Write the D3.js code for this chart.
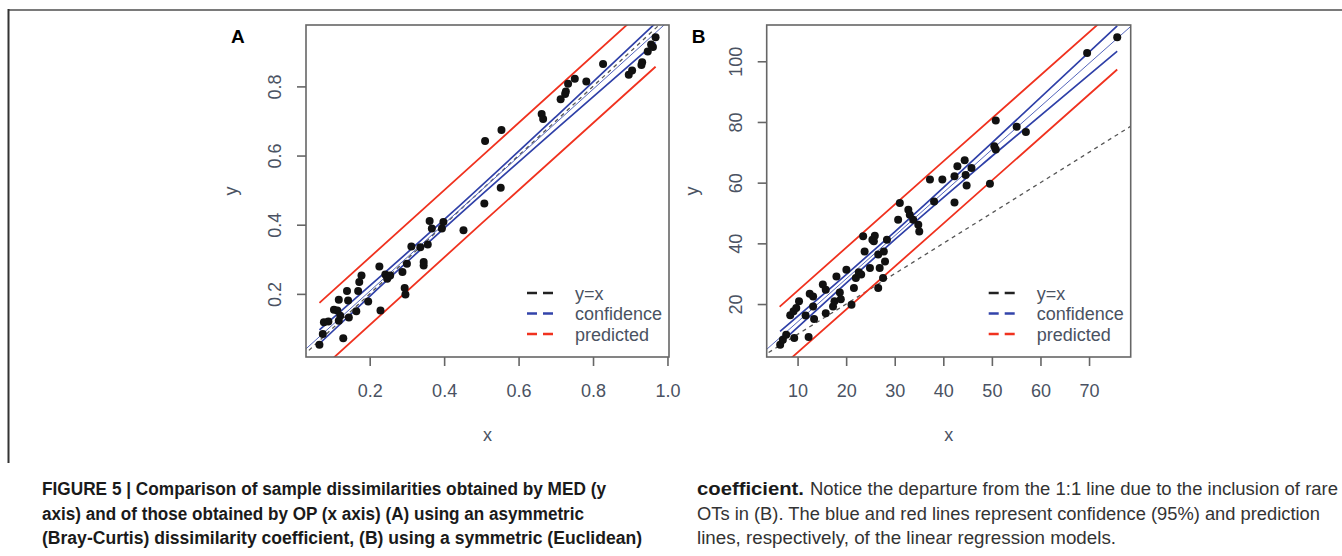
<!DOCTYPE html>
<html>
<head>
<meta charset="utf-8">
<script src="https://cdn.jsdelivr.net/npm/d3@7"></script>
<style>
  body { margin: 0; background: #fff; }
  svg { display: block; }
</style>
</head>
<body>
<script>

// panel A : asymmetric (Bray-Curtis)
let xA = [0.065, 0.074, 0.077, 0.089, 0.104, 0.113, 0.117, 0.121, 0.117, 0.129,
  0.139, 0.142, 0.144, 0.164, 0.169, 0.172, 0.178, 0.196, 0.226, 0.229,
  0.242, 0.250, 0.255, 0.247, 0.288, 0.294, 0.296, 0.300, 0.312, 0.336,
  0.345, 0.345, 0.356, 0.361, 0.367, 0.394, 0.398, 0.452, 0.508, 0.510,
  0.552, 0.554, 0.662, 0.666, 0.713, 0.727, 0.733, 0.725, 0.751, 0.782,
  0.827, 0.896, 0.905, 0.932, 0.930, 0.947, 0.956, 0.961, 0.968]
let yA = [0.053, 0.084, 0.118, 0.120, 0.154, 0.152, 0.183, 0.137, 0.122, 0.072,
  0.208, 0.181, 0.132, 0.150, 0.208, 0.234, 0.253, 0.178, 0.279, 0.152,
  0.256, 0.250, 0.253, 0.244, 0.263, 0.217, 0.198, 0.287, 0.337, 0.335,
  0.292, 0.282, 0.343, 0.411, 0.389, 0.389, 0.408, 0.384, 0.461, 0.642,
  0.507, 0.674, 0.720, 0.706, 0.763, 0.785, 0.808, 0.778, 0.822, 0.814,
  0.865, 0.834, 0.846, 0.870, 0.862, 0.901, 0.921, 0.914, 0.942]

// regression lines of panel A
let fitA = { x: [0.0, 1.05], y: [0.013, 1.035] }
let confXA = [0.065, 0.2, 0.42, 0.7, 0.968]
let confUpA = [0.096, 0.223, 0.434, 0.712, 0.983]
let confLoA = [0.056, 0.193, 0.409, 0.676, 0.927]
let predXA = [0.065, 0.5, 0.968]
let predUpA = [0.174, 0.597, 1.053]
let predLoA = [-0.022, 0.403, 0.857]
let xTicksA = [0.2, 0.4, 0.6, 0.8, 1.0]
let yTicksA = [0.2, 0.4, 0.6, 0.8]

// panel B : symmetric (Euclidean)
let xB = [6.42, 6.97, 7.66, 9.31, 12.27, 8.49, 9.17, 9.73, 10.3, 11.65,
  12.5, 13.2, 13.4, 13.2, 15.2, 15.8, 15.8, 17.3, 17.6, 18.0,
  18.7, 18.9, 20.05, 21.1, 21.6, 22.0, 22.6, 23.1, 23.5, 23.8,
  24.9, 25.4, 25.7, 25.9, 26.6, 26.6, 26.9, 27.6, 28.0, 27.75,
  28.4, 30.7, 31.05, 32.8, 33.1, 33.8, 34.85, 35.05, 37.25, 38.1,
  39.8, 42.3, 42.3, 42.9, 44.4, 44.8, 44.6, 45.8, 49.6, 50.5,
  50.8, 50.8, 55.1, 57.0, 69.6, 75.8]
let yB = [6.6, 8.2, 9.9, 8.8, 9.1, 16.3, 17.6, 18.7, 20.9, 16.2,
  23.4, 22.5, 15.1, 19.2, 26.4, 24.7, 17.0, 19.2, 20.9, 29.1,
  23.8, 21.6, 31.3, 19.8, 25.3, 28.6, 30.5, 29.7, 42.3, 37.3,
  31.9, 41.2, 40.7, 42.5, 36.3, 25.3, 31.9, 28.6, 34.0, 37.3,
  41.2, 47.8, 53.3, 51.1, 49.4, 47.8, 46.1, 43.9, 61.0, 53.8,
  61.0, 53.5, 62.1, 65.4, 67.4, 59.1, 62.5, 64.8, 59.6, 72.0,
  70.9, 80.5, 78.4, 76.7, 102.7, 107.9]

let fitB = { x: [0, 85], y: [-0.1, 120.6] }
let confXB = [6.4, 20, 30, 50, 75.8]
let confUpB = [11.0, 29.7, 43.8, 73.1, 111.7]
let confLoB = [7.0, 26.9, 41.2, 68.7, 103.3]
let predXB = [6.3, 40, 75.8]
let predUpB = [19.1, 67.0, 117.8]
let predLoB = [-1.2, 46.5, 97.3]
let xTicksB = [10, 20, 30, 40, 50, 60, 70]
let yTicksB = [20, 40, 60, 80, 100]

let legendLabels = ['y=x', 'confidence', 'predicted']
let legendColors = ['#222222', '#3344aa', '#f0321f']

let captionLeft = [
  'FIGURE 5 | Comparison of sample dissimilarities obtained by MED (y',
  'axis) and of those obtained by OP (x axis) (A) using an asymmetric',
  '(Bray-Curtis) dissimilarity coefficient, (B) using a symmetric (Euclidean)'
]
let captionRight = [
  'OTs in (B). The blue and red lines represent confidence (95%) and prediction',
  'lines, respectively, of the linear regression models.'
]

let width = 1342,
  height = 556

let svg = d3.select('body')
  .append('svg')
  .attr('width', width)
  .attr('height', height)

let tickColor = '#4a5262'
let font = "'Liberation Sans', Arial, sans-serif"

// figure frame
svg.append('line')
  .attr('x1', 8).attr('x2', width).attr('y1', 10).attr('y2', 10)
  .attr('stroke', '#7a7a7a').attr('stroke-width', 2)
svg.append('line')
  .attr('x1', 8.5).attr('x2', 8.5).attr('y1', 9).attr('y2', 463)
  .attr('stroke', '#333').attr('stroke-width', 2)

// R style domain: data range extended by 4% each side
function rDomain(v) {
  let [lo, hi] = d3.extent(v)
  let pad = (hi - lo) * 0.04
  return [lo - pad, hi + pad]
}

function panel(opt) {
  let box = opt.box
  let x = d3.scaleLinear().domain(rDomain(opt.xs)).range([box.x, box.x + box.w])
  let y = d3.scaleLinear().domain(rDomain(opt.ys)).range([box.y + box.h, box.y])

  let g = svg.append('g')

  let clipId = 'clip' + opt.name
  svg.append('clipPath').attr('id', clipId)
    .append('rect')
    .attr('x', box.x).attr('y', box.y)
    .attr('width', box.w).attr('height', box.h)

  let lines = g.append('g').attr('clip-path', `url(#${clipId})`)

  let line = d3.line()
    .x(d => x(d[0]))
    .y(d => y(d[1]))
  let curve = d3.line()
    .x(d => x(d[0]))
    .y(d => y(d[1]))
    .curve(d3.curveMonotoneX)

  // y = x reference
  let dom = x.domain()
  lines.append('path')
    .attr('d', line([[dom[0] - 1, dom[0] - 1], [dom[1] * 2, dom[1] * 2]]))
    .attr('fill', 'none')
    .attr('stroke', '#555')
    .attr('stroke-width', 1.3)
    .attr('stroke-dasharray', '4,4')

  // prediction lines
  ;[opt.predUp, opt.predLo].forEach(arr => {
    lines.append('path')
      .attr('d', curve(opt.predX.map((v, i) => [v, arr[i]])))
      .attr('fill', 'none')
      .attr('stroke', '#f0321f')
      .attr('stroke-width', 1.8)
  })

  // confidence lines
  ;[opt.confUp, opt.confLo].forEach(arr => {
    lines.append('path')
      .attr('d', curve(opt.confX.map((v, i) => [v, arr[i]])))
      .attr('fill', 'none')
      .attr('stroke', '#2f40a8')
      .attr('stroke-width', 1.7)
  })

  // fitted line
  lines.append('path')
    .attr('d', line(opt.fit.x.map((v, i) => [v, opt.fit.y[i]])))
    .attr('fill', 'none')
    .attr('stroke', '#5566bb')
    .attr('stroke-width', 1)

  // points
  g.append('g')
    .selectAll('circle')
    .data(opt.xs.map((v, i) => [v, opt.ys[i]]))
    .enter()
    .append('circle')
    .attr('cx', d => x(d[0]))
    .attr('cy', d => y(d[1]))
    .attr('r', 4)
    .attr('fill', '#111')

  // box
  g.append('rect')
    .attr('x', box.x).attr('y', box.y)
    .attr('width', box.w).attr('height', box.h)
    .attr('fill', 'none')
    .attr('stroke', '#666')
    .attr('stroke-width', 1.6)

  // axes
  let xAxis = g.append('g')
    .attr('transform', `translate(0, ${box.y + box.h})`)
    .call(d3.axisBottom(x).tickValues(opt.xTicks).tickSize(9).tickFormat(opt.xFormat))
  xAxis.select('.domain').remove()
  xAxis.selectAll('line').attr('stroke', '#666').attr('stroke-width', 1.6)
  xAxis.selectAll('text')
    .attr('y', 40).attr('dy', null)
    .attr('fill', tickColor)
    .attr('font-family', font)
    .attr('font-size', 18)

  let yAxis = g.append('g')
    .attr('transform', `translate(${box.x}, 0)`)
    .call(d3.axisLeft(y).tickValues(opt.yTicks).tickSize(9).tickFormat(opt.yFormat))
  yAxis.select('.domain').remove()
  yAxis.selectAll('line').attr('stroke', '#666').attr('stroke-width', 1.6)
  yAxis.selectAll('text')
    .attr('x', 0).attr('y', 0).attr('dy', null)
    .attr('text-anchor', 'middle')
    .attr('transform', 'translate(-25,0) rotate(-90)')
    .attr('fill', tickColor)
    .attr('font-family', font)
    .attr('font-size', 18)

  // axis titles
  g.append('text')
    .attr('x', box.x + box.w / 2)
    .attr('y', 441)
    .attr('text-anchor', 'middle')
    .attr('fill', tickColor)
    .attr('font-family', font)
    .attr('font-size', 18)
    .text('x')
  g.append('text')
    .attr('transform', `translate(${box.x - 69}, ${box.y + box.h / 2}) rotate(-90)`)
    .attr('text-anchor', 'middle')
    .attr('fill', tickColor)
    .attr('font-family', font)
    .attr('font-size', 18)
    .text('y')

  // panel letter
  g.append('text')
    .attr('x', box.x - 75)
    .attr('y', 43)
    .attr('font-family', font)
    .attr('font-size', 19)
    .attr('font-weight', 'bold')
    .attr('fill', '#000')
    .text(opt.name)

  // legend
  let legend = g.append('g')
    .attr('transform', `translate(${box.x + box.w - 142}, 293)`)
  legendLabels.forEach((lab, i) => {
    legend.append('line')
      .attr('x1', 0).attr('x2', 28)
      .attr('y1', i * 20.5).attr('y2', i * 20.5)
      .attr('stroke', legendColors[i])
      .attr('stroke-width', 2.5)
      .attr('stroke-dasharray', '10,6')
    legend.append('text')
      .attr('x', 48)
      .attr('y', i * 20.5 + 6.5)
      .attr('fill', tickColor)
      .attr('font-family', font)
      .attr('font-size', 18)
      .text(lab)
  })
}

panel({
  name: 'A',
  box: { x: 306, y: 25, w: 363, h: 332 },
  xs: xA, ys: yA,
  fit: fitA,
  confX: confXA, confUp: confUpA, confLo: confLoA,
  predX: predXA, predUp: predUpA, predLo: predLoA,
  xTicks: xTicksA, yTicks: yTicksA,
  xFormat: d3.format('.1f'), yFormat: d3.format('.1f')
})

panel({
  name: 'B',
  box: { x: 766.7, y: 25, w: 364, h: 332 },
  xs: xB, ys: yB,
  fit: fitB,
  confX: confXB, confUp: confUpB, confLo: confLoB,
  predX: predXB, predUp: predUpB, predLo: predLoB,
  xTicks: xTicksB, yTicks: yTicksB,
  xFormat: d3.format('d'), yFormat: d3.format('d')
})

// caption
let capFont = "'Liberation Sans Narrow', 'Liberation Sans', Arial, sans-serif"
let capBase = [495, 520, 544]
let leftEnds = [606, 584, 642]

captionLeft.forEach((t, i) => {
  svg.append('text')
    .attr('x', 42)
    .attr('y', capBase[i])
    .attr('font-family', capFont)
    .attr('font-size', 17.5)
    .attr('font-weight', 'bold')
    .attr('fill', '#1a1a1a')
    .attr('textLength', leftEnds[i] - 42)
    .attr('lengthAdjust', 'spacingAndGlyphs')
    .text(t)
})

svg.append('text')
  .attr('x', 697)
  .attr('y', capBase[0])
  .attr('font-family', capFont)
  .attr('font-size', 17.5)
  .attr('font-weight', 'bold')
  .attr('fill', '#1a1a1a')
  .attr('textLength', 107)
  .attr('lengthAdjust', 'spacingAndGlyphs')
  .text('coefficient.')

svg.append('text')
  .attr('x', 810)
  .attr('y', capBase[0])
  .attr('font-family', capFont)
  .attr('font-size', 17.5)
  .attr('fill', '#333')
  .attr('textLength', 528)
  .attr('lengthAdjust', 'spacingAndGlyphs')
  .text('Notice the departure from the 1:1 line due to the inclusion of rare')

let rightEnds = [1320, 1116]
captionRight.forEach((t, i) => {
  svg.append('text')
    .attr('x', 697)
    .attr('y', capBase[i + 1])
    .attr('font-family', capFont)
    .attr('font-size', 17.5)
    .attr('fill', '#333')
    .attr('textLength', rightEnds[i] - 697)
    .attr('lengthAdjust', 'spacingAndGlyphs')
    .text(t)
})

</script>
</body>
</html>
